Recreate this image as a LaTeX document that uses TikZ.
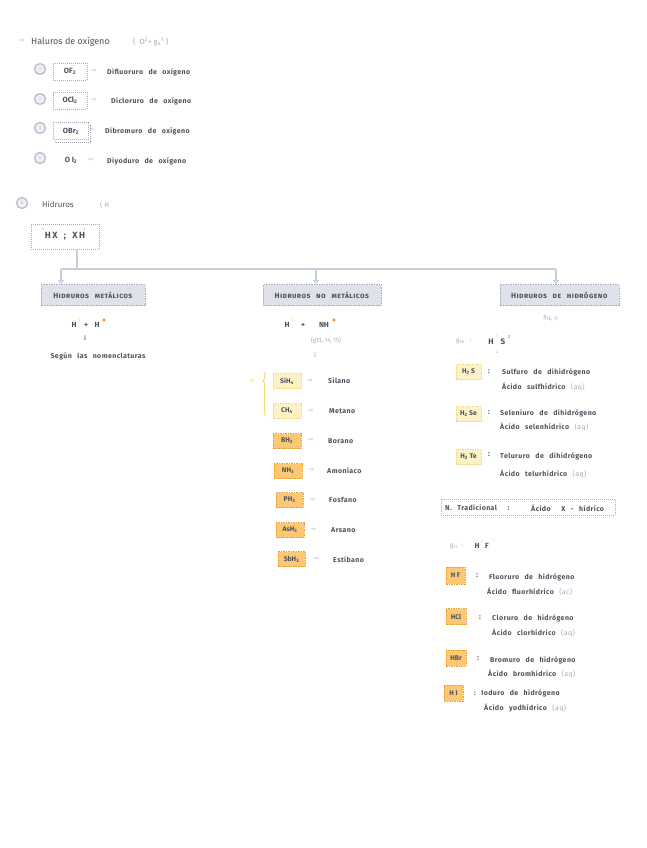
\documentclass[tikz,border=0pt]{standalone}
\usepackage{fontspec}
\setmainfont{Fira Sans}
\newfontfamily\symf{DejaVu Sans}
\newfontfamily\handf[WordSpace=2.6,LetterSpace=6]{Fira Sans}
\usetikzlibrary{arrows.meta,decorations.pathreplacing,calc}
\definecolor{ink}{HTML}{4E535C}
\definecolor{soft}{HTML}{A3ABBF}
\definecolor{linec}{HTML}{C9CEDB}
\definecolor{catfill}{HTML}{DFE2EA}
\definecolor{dashc}{HTML}{A7ADBD}
\definecolor{yfill}{HTML}{FDF1C6}
\definecolor{ydraw}{HTML}{F6D67A}
\definecolor{ofill}{HTML}{FCC873}
\definecolor{odraw}{HTML}{EF9F2B}
\definecolor{ring}{HTML}{B9BECB}
\definecolor{ringfill}{HTML}{EEF0F4}
\definecolor{gsup}{HTML}{7CCF7C}
\definecolor{rsup}{HTML}{E8605A}
\definecolor{ysup}{HTML}{F5CC4C}
\definecolor{osup}{HTML}{F39A1E}
\tikzset{
  lbl/.style={anchor=west, inner sep=0, text=ink, font=\handf\bfseries\fontsize{7}{8}\selectfont},
  slbl/.style={inner sep=0, text=soft, font=\fontsize{6}{7}\selectfont},
  form/.style={inner sep=0, text=ink, font=\fontsize{7.5}{8}\selectfont\bfseries},
  arr/.style={inner sep=0, text=soft, font=\symf\fontsize{6}{6}\selectfont},
  numc/.style={circle, draw=ring, line width=1.3pt, fill=ringfill, minimum size=11pt, inner sep=0, text=soft, font=\fontsize{4}{4}\selectfont},
  dbox/.style={draw=dashc, dash pattern=on 1pt off 1pt, line width=0.6pt, inner sep=0, fill=white},
  catbox/.style={fill=catfill, draw=dashc, dash pattern=on 1.5pt off 1pt, line width=0.7pt, text=ink, inner sep=0, font=\handf\bfseries\fontsize{7.5}{8}\selectfont},
  ybox/.style={fill=yfill, draw=ydraw, dash pattern=on 1.5pt off 1pt, line width=0.7pt, inner sep=0, text=ink, font=\fontsize{6.8}{8}\selectfont\bfseries},
  obox/.style={fill=ofill, draw=odraw, dash pattern=on 1.5pt off 1pt, line width=0.8pt, inner sep=0, text=ink, font=\fontsize{6.8}{8}\selectfont\bfseries},
  conn/.style={draw=linec, line width=1.2pt},
  conna/.style={conn, -{Triangle[open,width=6pt,length=4pt]}},
}
\begin{document}
\begin{tikzpicture}[x=1pt,y=-1pt]
\useasboundingbox[fill=white] (0,0) rectangle (646,848);

% ---- Haluros de oxigeno ----
\node[arr] (bul) at (22,41) {➾};
\node[anchor=west, inner sep=0, text=ink, font=\fontsize{9}{10}\selectfont] (tit) at (31,42) {Haluros de oxígeno};
\node[slbl, anchor=west, font=\fontsize{7.5}{8}\selectfont] (titf) at (133,42) {(\ \ O\textsuperscript{2}+ g\textsubscript{n}\textsuperscript{1}\ )};

\node[numc] (n1) at (40,69) {1};
\node[numc] (n2) at (40,99) {2};
\node[numc] (n3) at (40,128) {3};
\node[numc] (n4) at (40,158) {4};

\node[dbox, minimum width=34pt, minimum height=17pt, form] (of) at (70,71.5) {OF\textsubscript{2}};
\node[dbox, minimum width=34pt, minimum height=17pt, form] (ocl) at (70,100.5) {OCl\textsubscript{2}};
\node[dbox, minimum width=35pt, minimum height=17pt] (obrs) at (73,134) {};
\node[dbox, minimum width=35pt, minimum height=17pt, form] (obr) at (71,131) {OBr\textsubscript{2}};
\node[form] (oi) at (71,160) {O I\textsubscript{2}};

\node[arr] (a1) at (94,71) {⇨};
\node[arr] (a2) at (94,100) {⇨};
\node[arr] (a3) at (92,130) {⇨};
\node[arr] (a4) at (91,160) {⇨};

\node[lbl] (t1) at (107,72) {Difluoruro de oxígeno};
\node[lbl] (t2) at (111,101) {Dicloruro de oxígeno};
\node[lbl] (t3) at (105,131) {Dibromuro de oxígeno};
\node[lbl] (t4) at (107,161) {Diyoduro de oxígeno};

% ---- Hidruros ----
\node[numc] (n5) at (22,203) {5};
\node[anchor=west, inner sep=0, text=ink, font=\fontsize{8}{9}\selectfont] (hid) at (42,204) {Hidruros};
\node[slbl, anchor=west, font=\fontsize{7}{8}\selectfont] (hidh) at (100,205) {( H};

\node[dbox, minimum width=68pt, minimum height=25pt, font=\fontsize{9}{10}\selectfont\bfseries, text=ink] (hx) at (65,236.5) {H\,X \ \ ; \ \ X\,H};
\node[inner sep=0, text=gsup, font=\fontsize{3.5}{4}\selectfont] (hxp) at (43,229) {+1};
\node[inner sep=0, text=rsup, font=\fontsize{3.5}{4}\selectfont] (hxm) at (84,229) {-1};

\node[catbox, minimum width=104pt, minimum height=21pt] (c1) at (93,295) {\textsc{Hidruros metálicos}};
\node[catbox, minimum width=118pt, minimum height=21pt] (c2) at (322,295) {\textsc{Hidruros no metálicos}};
\node[catbox, minimum width=119pt, minimum height=21pt] (c3) at (559.5,295) {\textsc{Hidruros de hidrógeno}};

\coordinate (hxs) at (77,249);
\coordinate (jl) at (61,269);
\coordinate (jm) at (316,269);
\coordinate (jr) at (556,269);
\draw[conn] (hxs) -- (hxs |- jl);
\draw[conn] (jl) -- (jr);
\draw[conna] (jl) -- (jl |- c1.north);
\draw[conna] (jm) -- (jm |- c2.north);
\draw[conna] (jr) -- (jr |- c3.north);

% left column
\node[form] (lhh) at (74,325) {H};
\node[form] (lhp) at (86,325) {+};
\node[form] (lhk) at (97,325) {H};
\node[inner sep=0, text=ysup, font=\fontsize{4}{4}\selectfont] (lh1) at (79,320) {1};
\node[inner sep=0, text=osup, font=\symf\fontsize{4}{4}\selectfont] (lh2) at (104,320) {●};
\node[inner sep=0, text=ink, font=\symf\fontsize{6}{6}\selectfont] (ld) at (85,338) {⇩};
\node[lbl, anchor=center] (lsn) at (98,356) {Según las nomenclaturas};

% middle column
\node[form] (mhh) at (287,325) {H};
\node[form] (mhp) at (303,325) {+};
\node[form] (mhk) at (324,325) {NH};
\node[inner sep=0, text=ysup, font=\fontsize{4}{4}\selectfont] (mh1) at (292,320) {1};
\node[inner sep=0, text=osup, font=\symf\fontsize{4}{4}\selectfont] (mh2) at (334,320) {●};
\node[slbl] (mg) at (326,341) {(g13, 14, 15)};
\node[arr, font=\symf\fontsize{6}{6}\selectfont] (md) at (315,355) {⇩};

\coordinate (brb) at (266,416);
\coordinate (brt) at (266,372);
\draw[draw=ydraw, line width=0.8pt, decorate, decoration={brace, amplitude=3pt, aspect=0.8}] (brb) -- (brt);
\node[inner sep=0, text=ysup, font=\fontsize{5}{6}\selectfont] (b14) at (252,381) {14};

\node[ybox, minimum width=28pt, minimum height=15pt] (sih) at (287,381) {SiH\textsubscript{4}};
\node[ybox, minimum width=28pt, minimum height=15pt] (ch) at (287,411) {CH\textsubscript{4}};
\node[obox, minimum width=28pt, minimum height=15pt] (bh) at (287,441) {BH\textsubscript{3}};
\node[obox, minimum width=28pt, minimum height=15pt] (nh) at (288,471) {NH\textsubscript{3}};
\node[obox, minimum width=27pt, minimum height=15pt] (ph) at (289.5,500) {PH\textsubscript{3}};
\node[obox, minimum width=28pt, minimum height=15pt] (ash) at (290,530) {AsH\textsubscript{3}};
\node[obox, minimum width=27pt, minimum height=15pt] (sbh) at (291.5,559) {SbH\textsubscript{3}};

\node[arr] (ma1) at (310,381) {⇨};
\node[arr] (ma2) at (311,411) {⇨};
\node[arr] (ma3) at (311,440) {⇨};
\node[arr] (ma4) at (312,470) {⇨};
\node[arr] (ma5) at (313,500) {⇨};
\node[arr] (ma6) at (314,530) {⇨};
\node[arr] (ma7) at (317,559) {⇨};

\node[lbl] (mt1) at (328,381) {Silano};
\node[lbl] (mt2) at (329,411) {Metano};
\node[lbl] (mt3) at (328,441) {Borano};
\node[lbl] (mt4) at (327,471) {Amoníaco};
\node[lbl] (mt5) at (329,500) {Fosfano};
\node[lbl] (mt6) at (331,530) {Arsano};
\node[lbl] (mt7) at (333,560) {Estibano};

% right column
\node[slbl] (rg) at (551,318) {g\textsubscript{16, 17}};
\node[slbl, anchor=west, font=\fontsize{6.5}{7}\selectfont] (rg16) at (456,341) {g\textsubscript{16}\ \ \ :};
\node[form, font=\fontsize{8}{9}\selectfont\bfseries] (rhh) at (491,342) {H};
\node[form, font=\fontsize{8}{9}\selectfont\bfseries] (rhk) at (503,342) {S};
\node[inner sep=0, text=ysup, font=\fontsize{4}{4}\selectfont] (rhs1) at (497,336) {1};
\node[inner sep=0, text=osup, font=\fontsize{4.5}{5}\selectfont\bfseries] (rhs2) at (509,337) {2};
\node[inner sep=0, text=soft, font=\symf\fontsize{4}{4}\selectfont] (rhsd) at (497,352) {↓};

\node[ybox, minimum width=25pt, minimum height=15pt] (h2s) at (468.5,372) {H\textsubscript{2} S};
\node[ybox, minimum width=25pt, minimum height=15pt] (h2se) at (468.5,414) {H\textsubscript{2} Se};
\node[ybox, minimum width=25pt, minimum height=15pt] (h2te) at (468.5,457) {H\textsubscript{2} Te};
\node[form] (c2s) at (489,372) {:};
\node[form] (c2se) at (489,413) {:};
\node[form] (c2te) at (489,455) {:};

\node[lbl] (s1) at (502,372) {Sulfuro de dihidrógeno};
\node[lbl] (s2) at (502,387) {Ácido sulfhídrico {\color{soft}\mdseries(aq)}};
\node[lbl] (se1) at (500,413) {Seleniuro de dihidrógeno};
\node[lbl] (se2) at (500,427) {Ácido selenhídrico {\color{soft}\mdseries(aq)}};
\node[lbl] (te1) at (500,456) {Telururo de dihidrógeno};
\node[lbl] (te2) at (500,474) {Ácido telurhídrico {\color{soft}\mdseries(aq)}};

\node[dbox, minimum width=174pt, minimum height=16pt] (ntr) at (528,507) {};
\node[lbl] (ntr1) at (445,508) {N. Tradicional\ \ :};
\node[lbl] (ntr2) at (531,508) {Ácido\ \ X - hídrico};

\node[slbl, anchor=west, font=\fontsize{6.5}{7}\selectfont] (rg17) at (450,546) {g\textsubscript{17}\ \ :};
\node[form, font=\fontsize{7.5}{8}\selectfont\bfseries] (rfh) at (477,546) {H};
\node[form, font=\fontsize{7.5}{8}\selectfont\bfseries] (rff) at (487,546) {F};
\node[inner sep=0, text=ysup, font=\fontsize{4}{4}\selectfont] (rhf1) at (482,541) {1};
\node[inner sep=0, text=ysup, font=\fontsize{4}{4}\selectfont] (rhf2) at (493,540) {1};

\node[obox, minimum width=19pt, minimum height=17pt] (hf) at (455.5,575.5) {H F};
\node[obox, minimum width=20pt, minimum height=16pt] (hcl) at (456,616.5) {HCl};
\node[obox, minimum width=20pt, minimum height=16pt] (hbr) at (456,658) {HBr};
\node[obox, minimum width=19pt, minimum height=16pt] (hi) at (453.5,693) {H I};

\node[form] (cf) at (477,576) {:};
\node[form] (ccl) at (480,618) {:};
\node[form] (cbr) at (478,659) {:};

\node[lbl] (f1) at (489,577) {Fluoruro de hidrógeno};
\node[lbl] (f2) at (487,592) {Ácido fluorhídrico {\color{soft}\mdseries(ac)}};
\node[lbl] (cl1) at (492,618) {Cloruro de hidrógeno};
\node[lbl] (cl2) at (492,633) {Ácido clorhídrico {\color{soft}\mdseries(aq)}};
\node[lbl] (br1) at (490,660) {Bromuro de hidrógeno};
\node[lbl] (br2) at (488,674) {Ácido bromhídrico {\color{soft}\mdseries(aq)}};
\node[lbl] (i1) at (474,693) {:\ Ioduro de hidrógeno};
\node[lbl] (i2) at (484,708) {Ácido yodhídrico {\color{soft}\mdseries(aq)}};
\end{tikzpicture}
\end{document}
